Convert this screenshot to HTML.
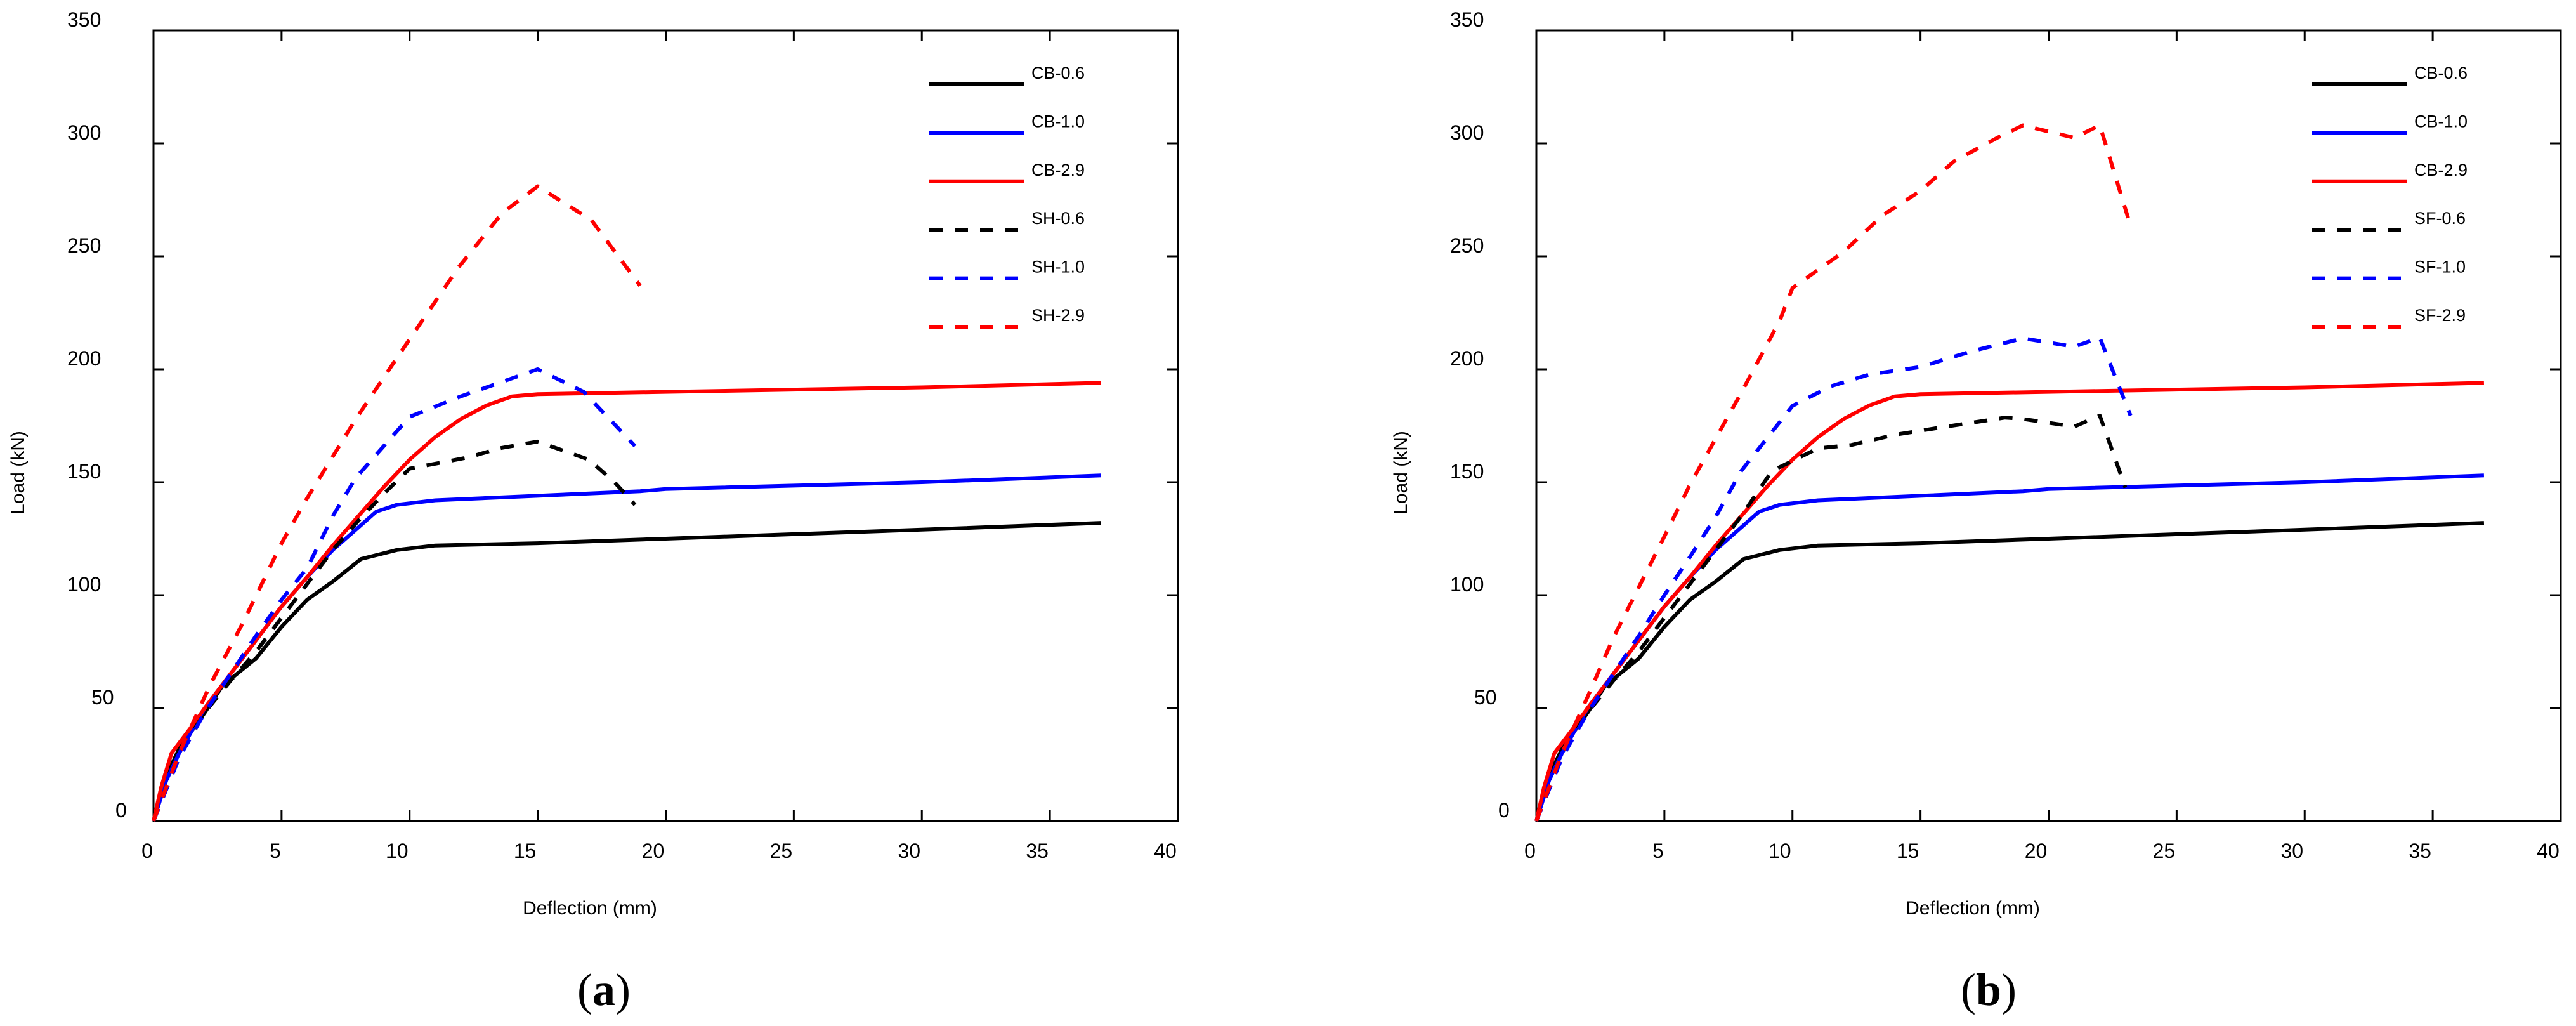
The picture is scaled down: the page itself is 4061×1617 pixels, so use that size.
<!DOCTYPE html>
<html><head><meta charset="utf-8"><style>
html,body{margin:0;padding:0;background:#fff}
svg{display:block}
text{font-family:"Liberation Sans",Arial,sans-serif}
</style></head><body>
<svg id="root" width="4061" height="1617" viewBox="0 0 4061 1617" xmlns="http://www.w3.org/2000/svg">
<rect width="4061" height="1617" fill="#fff"/>
<g id="panelA"></g>
<g id="panelB"></g>
<text x="952" y="1584" text-anchor="middle" font-size="72" style="font-family:'Liberation Serif',serif">(<tspan font-weight="bold">a</tspan>)</text>
<text x="3135" y="1584" text-anchor="middle" font-size="72" style="font-family:'Liberation Serif',serif">(<tspan font-weight="bold">b</tspan>)</text>
</svg>
<script>
const xTicks=[0,5,10,15,20,25,30,35,40];
const yTicks=[0,50,100,150,200,250,300,350];
const cb06X=[0,0.5,1,2,2.7,4,5,6,7,8.1,9.5,11,15,20,25,30,37];
const cb06Y=[0,20,32,48,60,72,86,98,106,116,120,122,123,125,127,129,132];
const cb10X=[0,0.5,1,2,3,4,5,6,7,8,8.7,9.5,11,15,19,20,30,37];
const cb10Y=[0,18,30,50,65,80,95,108,120,130,137,140,142,144,146,147,150,153];
const cb29X=[0,0.3,0.7,1.5,2,3,4,5,6,7,8,9,10,11,12,13,14,15,20,30,37];
const cb29Y=[0,15,30,42,50,65,80,95,108,122,135,148,160,170,178,184,188,189,190,192,194];
const sh06X=[0,1,2,3,4,5,6,7,8,9,10,12.3,13.5,15,17,18,18.8];
const sh06Y=[0,30,48,62,75,90,105,120,133,145,156,161,165,168,160,150,140];
const sh10X=[0,1,2,3,4,5,6,7,7.9,10,12,13.5,15,16.8,18.8];
const sh10Y=[0,28,48,65,82,98,112,135,152,179,188,194,200,190,166];
const sh29X=[0,1,2.2,3.5,5,6,7.9,9.8,11.9,13.6,15,17.1,19];
const sh29Y=[0,30,60,88,123,143,178,210,245,269,281,266,237];
const sf06X=[0,1,2,3,4,5,6,7,8,9.2,11,12.3,14,16,18.3,19,21,22,23];
const sf06Y=[0,30,48,62,75,90,105,120,135,155,165,166.5,171,174.6,178.6,178,174.6,179.5,147.6];
const sf10X=[0,1,2,3,4,5,6,7,8,10,11.5,13,15,17,19,21,22,23.2];
const sf10Y=[0,28,48,65,82,100,117,134.6,155,183.8,192.5,197.7,201,208,213.7,210,214,179.5];
const sf29X=[0,1,2,3,5,6,8,9.5,10,12,13.5,15,16.3,18,19,21,22,23.2];
const sf29Y=[0,30,55,81,126,149,189.6,221.5,236,252,268,279,292,302.5,308,302.5,308,263.5];
const labelsA=["CB-0.6","CB-1.0","CB-2.9","SH-0.6","SH-1.0","SH-2.9"];
const labelsB=["CB-0.6","CB-1.0","CB-2.9","SF-0.6","SF-1.0","SF-2.9"];
const NS="http://www.w3.org/2000/svg";
function mk(tag,attrs,parent){const e=document.createElementNS(NS,tag);for(const k in attrs)e.setAttribute(k,attrs[k]);parent.appendChild(e);return e;}
function draw(g,ox,series,labels,tag){
  const L=ox,R=ox+1615,T=48,B=1294;
  const sx=v=>L+(v/40)*(R-L);
  const sy=v=>B-(v/350)*(B-T);
  const frame=mk('rect',{x:L,y:T,width:R-L,height:B-T,fill:'none',stroke:'#000','stroke-width':3},g);
  
  
  xTicks.forEach(t=>{
    const x=sx(t);
    const tk=mk('path',{d:`M${x} ${B}V${B-17}M${x} ${T}V${T+17}`,stroke:'#000','stroke-width':3},g);
    
    
    const lb=mk('text',{x:x-(t>=10?20:10),y:1352,'text-anchor':'middle','font-size':32},g);
    lb.textContent=t;
    
    
  });
  yTicks.forEach(t=>{
    const y=sy(t);
    const tk=mk('path',{d:`M${L} ${y}H${L+17}M${R} ${y}H${R-17}`,stroke:'#000','stroke-width':3},g);
    
    
    const s=String(t);
    const lb=mk('text',{x:ox-136+(3-s.length)*38,y:y-6,'font-size':32},g);
    lb.textContent=s;
    
    
  });
  const xt=mk('text',{x:ox+688,y:1441,'text-anchor':'middle','font-size':30},g);
  xt.textContent='Deflection (mm)';
  
  
  const yt=mk('text',{x:0,y:0,'text-anchor':'middle','font-size':30,transform:`translate(${ox-204},745) rotate(-90)`},g);
  yt.textContent='Load (kN)';
  
  
  series.forEach((s,i)=>{
    const d=s.xs.map((v,j)=>(j?'L':'M')+sx(v).toFixed(1)+' '+sy(s.ys[j]).toFixed(1)).join('');
    const p=mk('path',{d:d,fill:'none',stroke:s.c,'stroke-width':6,'stroke-linejoin':'round'},g);
    if(s.dash)p.setAttribute('stroke-dasharray','21 19');
    
    
    const ly=133+i*76.4;
    const lx=ox+1223;
    const ll=mk('line',{x1:lx,y1:ly,x2:s.dash?lx+140:lx+149,y2:ly,stroke:s.c,'stroke-width':6},g);
    if(s.dash)ll.setAttribute('stroke-dasharray','21 19');
    
    
    const lt=mk('text',{x:ox+1384,y:ly-9,'font-size':27},g);
    lt.textContent=labels[i];
    
    
  });
}
const base=[{xs:cb06X,ys:cb06Y,c:'#000'},{xs:cb10X,ys:cb10Y,c:'#0000ff'},{xs:cb29X,ys:cb29Y,c:'#ff0000'}];
draw(document.getElementById('panelA'),242,base.concat([
  {xs:sh06X,ys:sh06Y,c:'#000',dash:1},{xs:sh10X,ys:sh10Y,c:'#0000ff',dash:1},{xs:sh29X,ys:sh29Y,c:'#ff0000',dash:1}]),labelsA,'a');
draw(document.getElementById('panelB'),2422,base.concat([
  {xs:sf06X,ys:sf06Y,c:'#000',dash:1},{xs:sf10X,ys:sf10Y,c:'#0000ff',dash:1},{xs:sf29X,ys:sf29Y,c:'#ff0000',dash:1}]),labelsB,'b');
</script>
</body></html>
